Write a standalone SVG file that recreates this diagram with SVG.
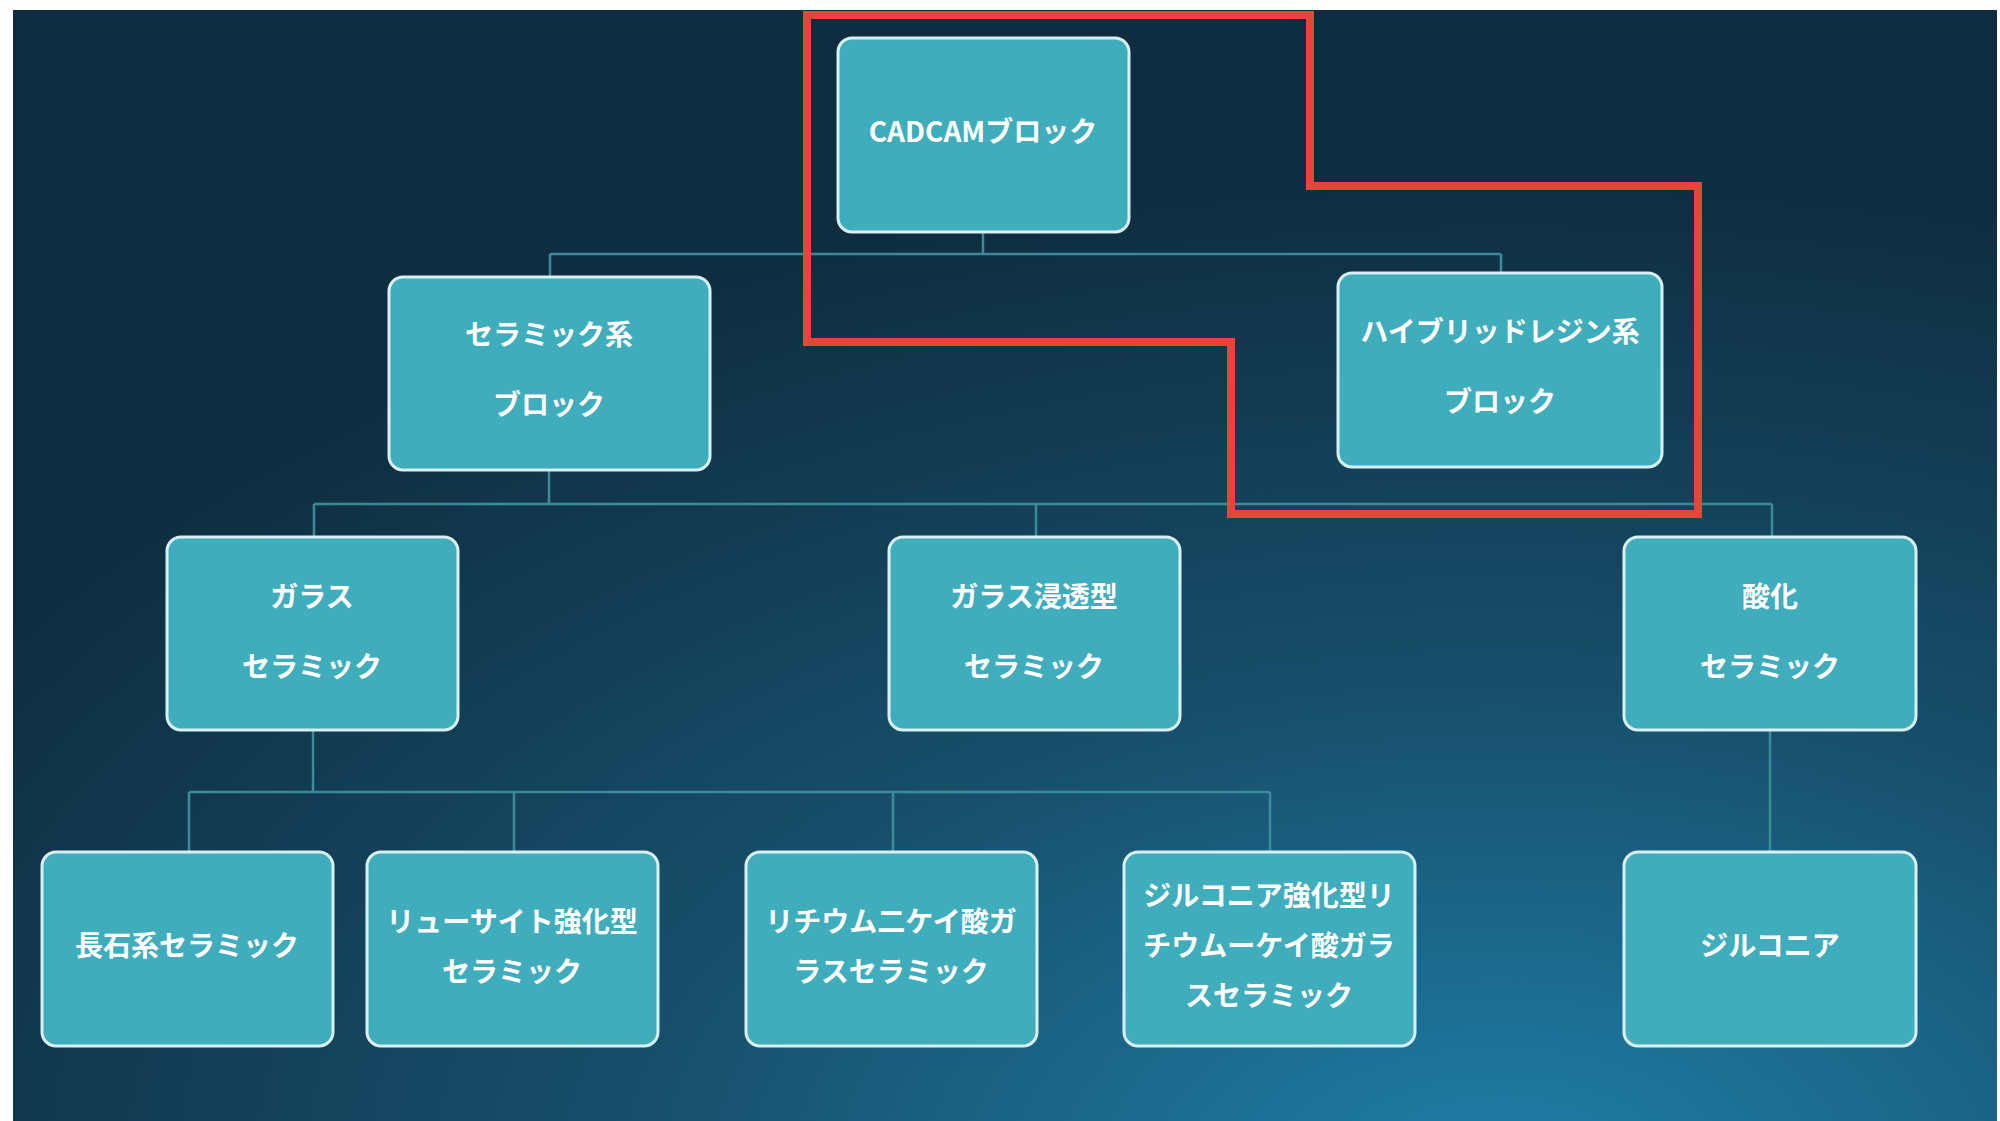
<svg xmlns="http://www.w3.org/2000/svg" width="2000" height="1121" viewBox="0 0 2000 1121">
<defs>
<radialGradient id="bg" cx="0.75" cy="1.05" r="0.9">
<stop offset="0" stop-color="#1f7fa8"/>
<stop offset="0.5" stop-color="#174e6a"/>
<stop offset="1" stop-color="#0f2d40"/>
</radialGradient>
<style>
.n rect{fill:#40adbd;stroke:#d8f0f3;stroke-width:3}
.n text{fill:#fff;font-family:"Noto Sans CJK JP","Liberation Sans",sans-serif;font-weight:bold;font-size:28px;text-anchor:middle;dominant-baseline:central}
.c{stroke:#3d8a9a;stroke-width:2.5;fill:none}
</style>
</defs>
<rect width="2000" height="1121" fill="#fff"/>
<rect x="13" y="10" width="1984" height="1111" fill="url(#bg)"/>
<g id="connectors" class="c">
<path d="M983 232V254M550 254H1501M550 254V277M1501 254V273"/>
<path d="M549 470V504M314 504H1772M314 504V537M1036 504V537M1772 504V537"/>
<path d="M313 730V792M189 792H1270M189 792V852M514 792V852M893 792V852M1270 792V852"/>
<path d="M1770 730V852"/>
</g>
<g id="cadcam" class="n"><rect x="838" y="38" width="291" height="194" rx="14"/><text x="983" y="130">CADCAMブロック</text></g>
<g id="ceramic" class="n"><rect x="389" y="277" width="321" height="193" rx="14"/><text x="549" y="333">セラミック系</text><text x="549" y="403">ブロック</text></g>
<g id="hybrid" class="n"><rect x="1338" y="273" width="324" height="194" rx="14"/><text x="1500" y="330">ハイブリッドレジン系</text><text x="1500" y="400">ブロック</text></g>
<g id="glass" class="n"><rect x="167" y="537" width="291" height="193" rx="14"/><text x="312" y="595">ガラス</text><text x="312" y="665">セラミック</text></g>
<g id="infiltrated" class="n"><rect x="889" y="537" width="291" height="193" rx="14"/><text x="1034" y="595">ガラス浸透型</text><text x="1034" y="665">セラミック</text></g>
<g id="oxide" class="n"><rect x="1624" y="537" width="292" height="193" rx="14"/><text x="1770" y="595">酸化</text><text x="1770" y="665">セラミック</text></g>
<g id="feldspar" class="n"><rect x="42" y="852" width="291" height="194" rx="14"/><text x="187" y="944">長石系セラミック</text></g>
<g id="leucite" class="n"><rect x="367" y="852" width="291" height="194" rx="14"/><text x="512" y="920">リューサイト強化型</text><text x="512" y="970">セラミック</text></g>
<g id="lithium" class="n"><rect x="746" y="852" width="291" height="194" rx="14"/><text x="891" y="920">リチウム二ケイ酸ガ</text><text x="891" y="970">ラスセラミック</text></g>
<g id="zlithium" class="n"><rect x="1124" y="852" width="291" height="194" rx="14"/><text x="1269" y="894">ジルコニア強化型リ</text><text x="1269" y="944">チウムーケイ酸ガラ</text><text x="1269" y="994">スセラミック</text></g>
<g id="zirconia" class="n"><rect x="1624" y="852" width="292" height="194" rx="14"/><text x="1770" y="944">ジルコニア</text></g>
<polygon points="807,15 1310,15 1310,186 1698,186 1698,514 1231,514 1231,342 807,342" fill="none" stroke="#e8453a" stroke-width="8"/>
</svg>
